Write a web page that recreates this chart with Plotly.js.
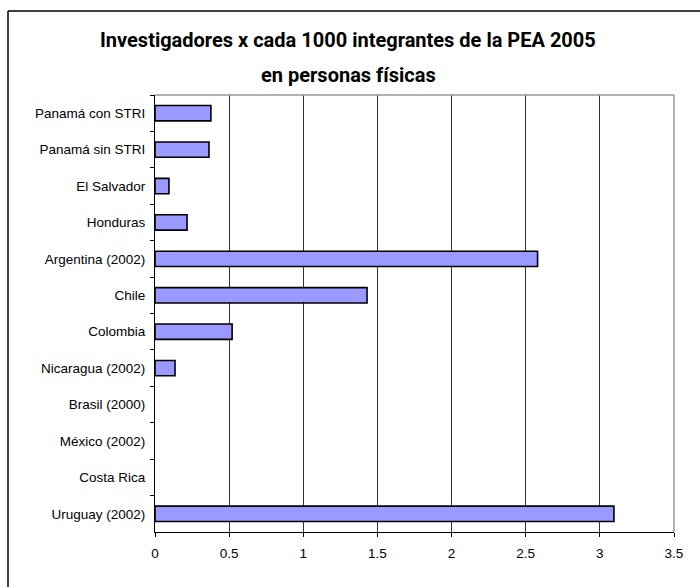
<!DOCTYPE html>
<html>
<head>
<meta charset="utf-8">
<script src="https://cdn.plot.ly/plotly-3.0.1.min.js"></script>
<style>html,body{margin:0;padding:0;background:#fff}#chart{width:700px;height:587px}</style>
</head>
<body>
<div id="chart"></div>
<script>
var categories = ["Panamá con STRI", "Panamá sin STRI", "El Salvador", "Honduras", "Argentina (2002)", "Chile", "Colombia", "Nicaragua (2002)", "Brasil (2000)", "México (2002)", "Costa Rica", "Uruguay (2002)"];
var values = [0.377, 0.364, 0.094, 0.216, 2.58, 1.43, 0.52, 0.135, null, null, null, 3.095];
var titleLines = ["Investigadores x cada 1000 integrantes de la PEA 2005", "en personas físicas"];
var xTicks = [0, 0.5, 1, 1.5, 2, 2.5, 3, 3.5];

var L = 155, R = 674, T = 95, B = 532, W = 700, H = 587;
function px(x){ return (x - L) / (R - L); }
function py(y){ return (B - y) / (B - T); }

var trace = {
  type: 'bar', orientation: 'h',
  y: categories, x: values,
  width: 0.42,
  marker: {color: '#9999FF', line: {color: '#000000', width: 1.6}},
  hoverinfo: 'x+y'
};

var titleFont = {family: 'Roboto, "Liberation Sans", sans-serif', size: 20, color: '#000', weight: 700};

var layout = {
  width: W, height: H,
  margin: {l: L, r: W - R, t: T, b: H - B, pad: 0},
  paper_bgcolor: '#ffffff', plot_bgcolor: '#ffffff',
  showlegend: false,
  font: {family: '"Liberation Sans", Arial, sans-serif', size: 13, color: '#000'},
  xaxis: {
    range: [0, 3.5], tickvals: xTicks, ticktext: xTicks.map(String),
    showgrid: true, gridcolor: '#333333', gridwidth: 1,
    zeroline: false, showline: true, linecolor: '#000', linewidth: 1,
    ticks: 'outside', ticklen: 4, tickcolor: '#000', ticklabelstandoff: 5,
    tickfont: {size: 13.5}, fixedrange: true
  },
  yaxis: {
    type: 'category', autorange: 'reversed',
    showgrid: false, zeroline: false,
    showline: true, linecolor: '#000', linewidth: 1,
    ticks: 'outside', ticklen: 4, tickcolor: '#000', tickson: 'boundaries',
    tickfont: {size: 13.5}, ticklabelstandoff: 6, fixedrange: true
  },
  shapes: [
    {type: 'line', xref: 'paper', yref: 'paper', x0: 0, x1: 1, y0: 1, y1: 1, line: {color: '#999999', width: 1.5}},
    {type: 'line', xref: 'paper', yref: 'paper', x0: 1, x1: 1, y0: 0, y1: 1, line: {color: '#999999', width: 1.5}},
    {type: 'line', xref: 'paper', yref: 'paper', x0: px(8), x1: px(701), y0: py(11), y1: py(11), line: {color: '#000', width: 1.5}},
    {type: 'line', xref: 'paper', yref: 'paper', x0: px(8), x1: px(8), y0: py(11), y1: py(588), line: {color: '#000', width: 1.5}}
  ],
  annotations: [
    {text: titleLines[0], xref: 'paper', yref: 'paper', x: px(348), y: py(40), xanchor: 'center', yanchor: 'middle', showarrow: false, font: titleFont},
    {text: titleLines[1], xref: 'paper', yref: 'paper', x: px(348), y: py(75), xanchor: 'center', yanchor: 'middle', showarrow: false, font: titleFont}
  ]
};

Plotly.newPlot('chart', [trace], layout, {displayModeBar: false, staticPlot: true});
</script>
</body>
</html>
